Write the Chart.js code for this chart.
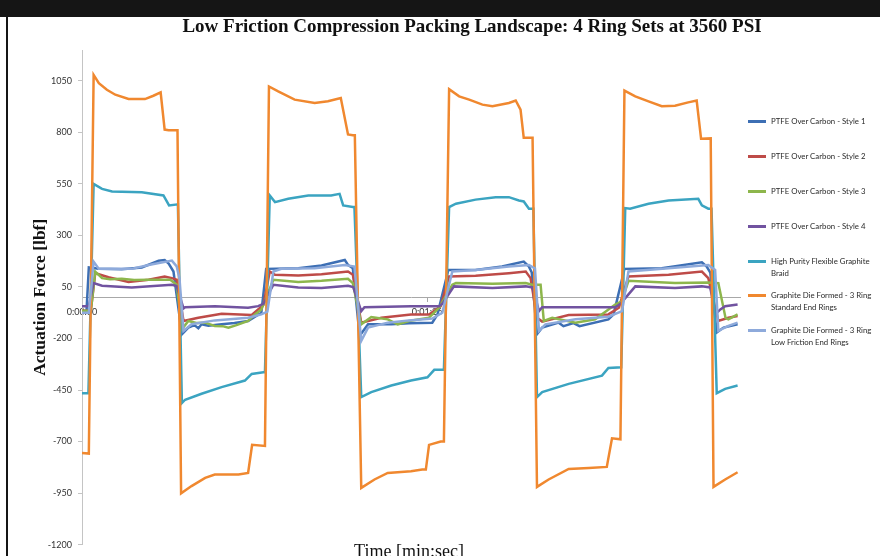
<!DOCTYPE html>
<html>
<head>
<meta charset="utf-8">
<script src="https://cdn.jsdelivr.net/npm/chart.js@4"></script>
<style>
  html, body { margin: 0; padding: 0; background: #fff; overflow: hidden; }
  #wrap { position: relative; width: 880px; height: 556px; overflow: hidden; }
  #chart { position: absolute; left: 0; top: 0; }
  #header { position: absolute; left: 0; top: 0; width: 880px; height: 17px; background: #151515; }
  #edge { position: absolute; left: 6px; top: 17px; width: 2px; height: 539px; background: #151515; }
  #title { position: absolute; left: 472px; top: 16px; transform: translateX(-50%); white-space: nowrap;
           font: bold 19px "Liberation Serif"; line-height: 19px; color: #111; }
  #xtitle { position: absolute; left: 409px; top: 542px; transform: translateX(-50%); white-space: nowrap;
            font: 18px "Liberation Serif"; line-height: 18px; color: #111; }
  .item { position: absolute; left: 748px; white-space: nowrap; font: 7.8px Lato; color: #2a2a2a; }
  .item i { position: absolute; left: 0; top: 5px; width: 18px; height: 2.5px; }
  .item span { position: absolute; left: 23px; top: 0; line-height: 12px; }
</style>
</head>
<body>
<div id="wrap">
  <canvas id="chart" width="880" height="556"></canvas>
  <div id="header"></div>
  <div id="edge"></div>
  <div id="title">Low Friction Compression Packing Landscape: 4 Ring Sets at 3560 PSI</div>
  <div id="xtitle">Time [min:sec]</div>
  <div id="legend"></div>
</div>
<script>
// time in seconds, force in lbf
const style1 = [[0,-75],[1.1,-75],[1.7,145],[4.2,138],[9.9,136],[14.9,145],[19.1,177],[20.6,181],[21.6,164],[22.8,125],
  [24.9,-179],[26.5,-147],[28.0,-135],[29.0,-150],[29.8,-131],[31.5,-138],[34.8,-131],[38.0,-125],[41.4,-115],[44.7,-75],
  [45.9,138],[53.9,141],[59.7,154],[65.5,181],[66.3,157],[67.5,141],
  [69.2,-187],[71.3,-131],[77.1,-131],[81.5,-126],[87.3,-123],[88.6,-83],
  [91.3,133],[98.1,133],[104.7,149],[110.1,173],[111.4,149],[112.1,120],
  [113.4,-179],[114.7,-147],[118.8,-123],[120.0,-140],[122.5,-125],[124.0,-140],[131.2,-107],[132.5,-83],
  [135.2,138],[144.5,141],[154.5,170],[155.7,149],[156.6,120],
  [158.2,-171],[159.9,-147],[163.4,-131]];

const style2 = [[0,-65],[2.2,-65],[3.3,117],[6.6,97],[11.6,74],[16.6,85],[20.6,101],[22.4,93],[23.6,85],
  [25.3,-115],[29.0,-99],[34.8,-80],[42.3,-86],[43.9,-59],[45.2,-38],
  [46.8,125],[48.1,109],[53.9,106],[59.7,112],[66.3,125],[67.5,110],
  [69.6,-123],[74.6,-99],[82.0,-83],[86.5,-83],[89.4,-43],
  [91.5,101],[98.1,104],[106.4,117],[110.6,125],[111.8,93],
  [113.4,-99],[114.7,-118],[121.3,-86],[131.2,-83],[133.8,-51],
  [136.2,101],[146.2,109],[154.5,125],[156.1,93],
  [158.6,-115],[161.1,-99],[163.4,-91]];

const style3 = [[0,-65],[2.2,-65],[3.3,125],[5.0,93],[7.0,88],[9.9,90],[13.0,84],[16.6,85],[22.0,85],[23.6,61],
  [24.9,-155],[26.5,-115],[28.5,-125],[30.7,-123],[33.1,-139],[35.0,-140],[36.5,-147],[38.5,-135],[41.4,-115],[43.1,-83],[44.7,-59],
  [47.7,85],[53.9,74],[59.7,80],[66.3,90],[67.5,69],
  [69.6,-131],[72.1,-96],[76.2,-107],[78.7,-131],[81.5,-115],[86.5,-99],[89.0,-51],
  [92.3,61],[93.2,69],[102.3,66],[110.6,69],[112.2,61],[114.3,61],
  [115.1,-115],[117.2,-99],[123.0,-123],[127.9,-107],[132.9,-35],[134.5,-20],
  [136.2,80],[147.8,69],[156.1,72],[158.6,69],
  [160.4,-100],[161.1,-107],[163.4,-83]];

const style4 = [[0,-43],[1.7,-43],[2.9,69],[5.0,56],[12.4,48],[22.4,61],[23.6,55],
  [25.3,-54],[25.7,-48],[33.1,-43],[41.4,-51],[43.9,-43],[45.2,-32],
  [47.7,61],[53.9,48],[59.7,45],[66.3,56],[67.6,50],
  [69.6,-67],[70.4,-48],[82.0,-43],[89.0,-43],[89.8,-32],
  [92.7,53],[102.3,45],[110.6,53],[112.3,48],
  [113.9,-67],[114.7,-48],[123.0,-48],[132.9,-48],[134.2,-32],
  [137.9,53],[147.8,45],[154.5,53],[156.6,48],
  [157.8,-83],[159.1,-59],[160.3,-43],[163.4,-35]];

const braid = [[0,-465],[1.6,-465],[2.9,550],[5.0,526],[7.5,513],[14.9,510],[20.3,494],[21.7,446],[23.9,451],
  [24.9,-513],[25.7,-497],[29.8,-468],[34.8,-436],[40.6,-404],[42.3,-372],[45.2,-364],[45.6,-364],
  [46.8,494],[48.1,462],[51.4,478],[56.4,494],[62.1,494],[64.2,502],[65.1,446],[67.5,438],[67.9,438],
  [69.6,-484],[72.1,-460],[77.1,-428],[82.0,-404],[86.1,-388],[87.8,-352],[90.2,-352],
  [91.5,438],[93.2,454],[98.1,474],[103.1,486],[106.4,486],[108.9,470],[110.1,465],[111.4,430],[112.5,430],
  [113.4,-484],[114.7,-460],[121.3,-420],[129.6,-380],[131.2,-343],[134.4,-340],
  [135.4,433],[136.6,430],[141.2,454],[146.2,470],[153.6,478],[154.5,446],[156.1,430],[156.9,430],
  [158.2,-465],[160.3,-444],[163.4,-428]];

const graphiteStd = [[0,-755],[1.7,-758],[2.9,1079],[4.2,1039],[6.2,1007],[8.3,983],[11.6,962],[15.7,962],[17.8,978],[19.6,994],[20.6,814],[21.6,811],[23.8,811],
  [24.7,-951],[27.3,-916],[30.7,-876],[33.1,-860],[39.0,-860],[41.4,-852],[42.4,-716],[45.6,-721],
  [46.6,1023],[48.9,999],[53.0,959],[58.0,943],[61.3,951],[64.5,967],[66.3,790],[67.5,786],[68.0,786],
  [69.6,-925],[72.9,-884],[76.2,-852],[82.0,-844],[84.8,-836],[85.7,-836],[86.5,-716],[89.4,-700],[90.2,-700],
  [91.5,1010],[94.0,975],[96.5,959],[99.8,935],[102.3,927],[106.4,943],[108.1,955],[109.3,911],[110.1,774],[112.3,774],
  [113.4,-920],[116.3,-884],[121.3,-833],[126.3,-828],[130.8,-823],[132.1,-684],[134.2,-689],
  [135.2,1003],[137.9,975],[141.2,951],[144.5,927],[147.8,930],[151.1,946],[153.2,955],[154.3,769],[156.7,771],
  [157.4,-920],[160.3,-884],[163.4,-849]];

const graphiteLowFriction = [[0,-75],[1.7,-75],[2.9,173],[4.2,138],[12.4,138],[16.6,157],[22.4,178],[23.6,150],[24.3,90],
  [25.3,-163],[27.3,-131],[33.1,-112],[41.4,-99],[44.7,-83],[46.2,-70],
  [47.7,125],[49.7,138],[58.0,141],[65.5,157],[67.9,149],
  [69.6,-211],[71.3,-147],[76.2,-123],[81.5,-112],[87.3,-103],[89.8,-75],
  [92.3,125],[98.1,133],[106.4,149],[111.4,157],[112.9,140],
  [113.9,-163],[115.5,-131],[123.0,-107],[131.2,-94],[134.6,-67],
  [136.2,125],[146.2,141],[156.1,157],[157.8,133],
  [158.6,-163],[161.1,-139],[163.4,-123]];

const seriesData = [style1, style2, style3, style4, braid, graphiteStd, graphiteLowFriction];
const seriesNames = [
  ['PTFE Over Carbon - Style 1'],
  ['PTFE Over Carbon - Style 2'],
  ['PTFE Over Carbon - Style 3'],
  ['PTFE Over Carbon - Style 4'],
  ['High Purity Flexible Graphite', 'Braid'],
  ['Graphite Die Formed - 3 Ring', 'Standard End Rings'],
  ['Graphite Die Formed - 3 Ring', 'Low Friction End Rings']
];
const seriesColors = ['#3d6fb4', '#be4b48', '#8db64c', '#7153a0', '#3ba4c1', '#f0882f', '#8eaadb'];

const forceTicks = [-1200, -950, -700, -450, -200, 50, 300, 550, 800, 1050];
const timeTicks = [0, 86];

function fmtTime(s) {
  const m = Math.floor(s / 60), sec = Math.round(s % 60);
  return '0:' + String(m).padStart(2, '0') + ':' + String(sec).padStart(2, '0');
}

/// legend, drawn as html so the long names can wrap
const legendTop = [115, 150, 185, 220, 255, 289, 324];
const legend = document.getElementById('legend');
seriesNames.forEach((lines, i) => {
  const el = document.createElement('div');
  el.className = 'item';
  el.style.top = legendTop[i] + 'px';
  el.innerHTML = '<i style="background:' + seriesColors[i] + '"></i><span>' + lines.join('<br>') + '</span>';
  legend.appendChild(el);
});

const tickFont = { family: 'Lato', size: 9 };

new Chart('chart', {
  type: 'line',
  data: {
    datasets: seriesData.map((pts, i) => ({
      label: seriesNames[i].join(' '),
      data: pts.map(p => ({ x: p[0], y: p[1] })),
      borderColor: seriesColors[i],
      backgroundColor: seriesColors[i],
      order: seriesData.length - i
    }))
  },
  options: {
    responsive: false,
    animation: false,
    devicePixelRatio: 1,
    layout: { padding: { left: 0, right: 140, top: 50, bottom: 7 } },
    elements: {
      point: { radius: 0 },
      line: { tension: 0, borderWidth: 2.5 }
    },
    plugins: {
      legend: { display: false },
      tooltip: { enabled: false }
    },
    scales: {
      x: {
        type: 'linear',
        min: 0,
        max: 164,
        position: { y: 0 },
        afterBuildTicks: axis => { axis.ticks = timeTicks.map(v => ({ value: v })); },
        ticks: { callback: v => fmtTime(v), font: tickFont, color: '#333', padding: 5, maxRotation: 0, autoSkip: false },
        grid: { drawOnChartArea: false, tickLength: 4, color: '#a8a8a8' },
        border: { color: '#a8a8a8' }
      },
      y: {
        min: -1200,
        max: 1200,
        afterBuildTicks: axis => { axis.ticks = forceTicks.map(v => ({ value: v })); },
        afterFit: scale => { scale.width = 82; },
        ticks: { callback: v => String(v), font: tickFont, color: '#333', padding: 6 },
        grid: { drawOnChartArea: false, tickLength: 4, color: '#c4c4c4' },
        border: { color: '#c4c4c4' },
        title: {
          display: true,
          text: 'Actuation Force [lbf]',
          font: { family: 'Liberation Serif', size: 17.5, weight: 'bold' },
          color: '#111',
          padding: { top: 30, bottom: 0 }
        }
      }
    }
  }
});
</script>
</body>
</html>
